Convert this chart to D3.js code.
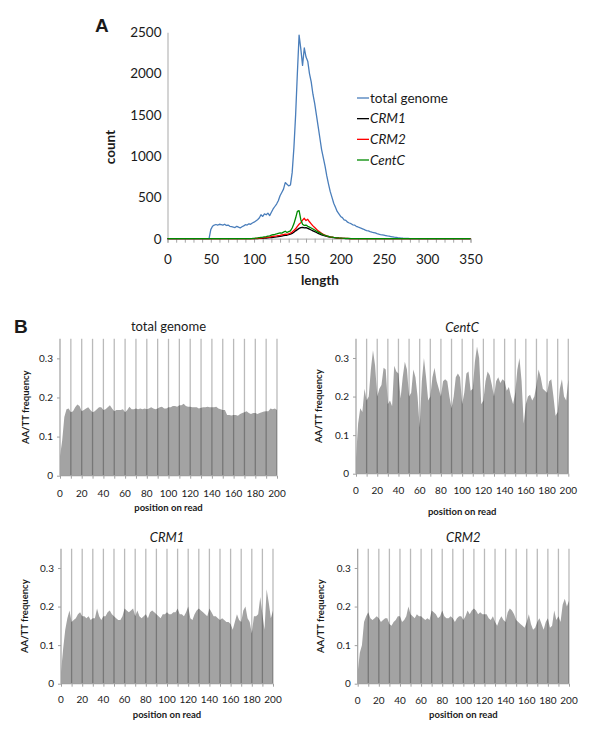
<!DOCTYPE html>
<html><head><meta charset="utf-8">
<script src="https://cdn.jsdelivr.net/npm/d3@7/dist/d3.min.js"></script>
<style>
body{margin:0;background:#fff}
svg{display:block}
text{font-family:Lato,"Open Sans",sans-serif;fill:#1a1a1a}
</style></head>
<body><svg id="c" width="600" height="747"></svg>
<script>
// ---------- Panel A data (length 0..350, step 2) ----------
const lengthsA = d3.range(0, 351, 2);
const countTicks = [0, 500, 1000, 1500, 2000, 2500];
const lengthTicks = [0, 50, 100, 150, 200, 250, 300, 350];
const minorLengthTicks = d3.range(0, 351, 10);
const seriesNamesA = ["total genome", "CRM1", "CRM2", "CentC"];
const seriesColorsA = ["#4a7ebb", "#000000", "#ff0000", "#008a00"];

const totalGenomeCounts = [
0,0,0,0,0,0,0,0,0,0, 0,0,0,0,0,0,0,0,0,0, 0,0,0,0, 0,
110,150,165,172,165,175,170,165,175,160,
165,150,145,140,135,150,140,130,145,155,
170,165,180,175,190,200,215,230,250,290,
270,300,290,310,280,320,360,390,420,460,
520,560,600,680,660,640,650,800,1100,1500,
2000,2466,2300,2100,2310,2200,2150,2000,1900,1750,
1640,1500,1360,1220,1080,980,880,760,660,570,
500,430,380,330,300,270,255,228,222,200,
190,182,168,165,150,142,133,125,117,106,
98,95,86,80,75,70,62,55,50,46,
42,38,33,30,26,22,18,15,12,10,
8,6,5,4,3,2,2,1,1,
0,0,0,0,0,0,0,0,0,0, 0,0,0,0,0,0,0,0,0,0, 0,0,0,0,0,0,0,0,0,0, 0,0
];
const crm1Counts = [
0,0,0,0,0,0,0,0,0,0, 0,0,0,0,0,0,0,0,0,0, 0,0,0,0,0,0,0,0,0,0,
0,0,0,0,0,0,0,0,0,0, 0,0,0,0,0,0,0,0,0,0, 0,
1,2,3,4,5,7,8,10,12,14,
17,20,22,25,28,32,36,40,42,48,
55,65,78,95,110,125,135,138,130,135,
125,115,105,95,85,75,65,55,47,40,
33,27,22,18,15,12,10,8,6,5,
4,3,2,2,1,
0,0,0,0,0,0,0,0,0,0, 0,0,0,0,0,0,0,0,0,0, 0,0,0,0,0,0,0,0,0,0,
0,0,0,0,0,0,0,0,0,0, 0,0,0,0,0,0,0,0,0,0, 0,0,0,0,0,0,0,0,0,0,
0,0,0,0,0,0,0,0,0,0
];
const crm2Counts = [
0,0,0,0,0,0,0,0,0,0, 0,0,0,0,0,0,0,0,0,0, 0,0,0,0,0,0,0,0,0,0,
0,0,0,0,0,0,0,0,0,0, 0,0,0,0,0,0,0,0,0,0,
2,3,4,6,8,10,12,15,18,20,
24,28,32,34,37,40,45,50,55,52,
60,68,80,100,120,150,175,195,225,247,
220,235,205,180,155,135,115,95,80,65,
52,42,35,28,23,19,15,12,10,8,
7,5,4,3,3,2,2,1,
0,0,0,0,0,0,0,0,0,0, 0,0,0,0,0,0,0,0,0,0, 0,0,0,0,0,0,0,0,0,0,
0,0,0,0,0,0,0,0,0,0, 0,0,0,0,0,0,0,0,0,0, 0,0,0,0,0,0,0,0,0,0,
0,0,0,0,0,0,0,0
];
const centCCounts = [
0,0,0,0,0,0,0,0,0,0, 0,0,0,0,0,0,0,0,0,0, 0,0,0,0,0,0,0,0,0,0,
0,0,0,0,0,0,0,0,0,0, 0,0,0,0,0,0,0,0,
2,3,5,7,9,12,15,18,22,25,
30,35,42,48,52,58,65,70,68,80,
90,75,85,95,130,180,250,330,339,230,
175,160,165,150,140,130,118,105,92,80,
70,58,48,40,33,28,23,20,16,13,
11,9,8,6,5,4,3,3,2,2,
1,
0,0,0,0,0,0,0,0,0,0, 0,0,0,0,0,0,0,0,0,0, 0,0,0,0,0,0,0,0,0,0,
0,0,0,0,0,0,0,0,0,0, 0,0,0,0,0,0,0,0,0,0, 0,0,0,0,0,0,0,0,0,0,
0,0,0,0,0,0,0
];

// ---------- Panel B data (position 0..200, step 2) ----------
const positionsB = d3.range(0, 201, 2);
const freqTicks = [0, 0.1, 0.2, 0.3];
const positionTicks = d3.range(0, 201, 20);
const gridPositions = d3.range(10, 201, 10);

const totalGenomeFreq = [
0.05,0.09,0.15,0.17,0.172,0.162,0.165,0.175,0.182,0.178,
0.165,0.168,0.172,0.175,0.168,0.162,0.165,0.17,0.175,0.175,
0.168,0.17,0.175,0.18,0.172,0.165,0.168,0.168,0.168,0.17,
0.162,0.168,0.176,0.17,0.17,0.172,0.17,0.172,0.17,0.172,
0.17,0.172,0.175,0.172,0.17,0.172,0.175,0.176,0.172,0.172,
0.175,0.175,0.178,0.178,0.176,0.18,0.18,0.184,0.178,0.176,
0.176,0.175,0.175,0.175,0.172,0.174,0.175,0.175,0.176,0.175,
0.175,0.175,0.176,0.172,0.17,0.168,0.168,0.155,0.155,0.154,
0.155,0.155,0.153,0.158,0.16,0.162,0.165,0.16,0.158,0.16,
0.16,0.158,0.16,0.162,0.164,0.165,0.165,0.172,0.17,0.172,
0.168
];
const centCFreq = [
0.04,0.13,0.17,0.16,0.22,0.19,0.2,0.27,0.32,0.28,
0.2,0.22,0.23,0.275,0.27,0.18,0.19,0.175,0.28,0.265,
0.26,0.195,0.25,0.29,0.27,0.2,0.21,0.27,0.25,0.2,
0.12,0.24,0.3,0.25,0.19,0.2,0.25,0.275,0.24,0.22,
0.2,0.24,0.245,0.24,0.2,0.17,0.2,0.25,0.26,0.25,
0.18,0.21,0.26,0.265,0.215,0.22,0.29,0.33,0.3,0.18,
0.19,0.24,0.265,0.255,0.23,0.2,0.24,0.25,0.235,0.245,
0.24,0.215,0.225,0.2,0.18,0.21,0.27,0.3,0.24,0.13,
0.18,0.2,0.205,0.19,0.2,0.23,0.27,0.25,0.22,0.215,
0.21,0.24,0.245,0.2,0.15,0.16,0.22,0.245,0.2,0.19,
0.245
];
const crm1Freq = [
0.03,0.09,0.14,0.17,0.19,0.16,0.165,0.17,0.18,0.185,
0.175,0.175,0.17,0.175,0.165,0.17,0.17,0.195,0.175,0.165,
0.175,0.175,0.185,0.19,0.18,0.175,0.17,0.165,0.165,0.175,
0.195,0.19,0.185,0.19,0.195,0.175,0.19,0.175,0.17,0.175,
0.18,0.17,0.185,0.19,0.185,0.18,0.175,0.17,0.18,0.18,
0.185,0.18,0.18,0.185,0.185,0.195,0.18,0.18,0.175,0.185,
0.2,0.17,0.165,0.18,0.19,0.195,0.19,0.185,0.18,0.175,
0.195,0.185,0.175,0.175,0.17,0.165,0.17,0.165,0.16,0.16,
0.155,0.14,0.16,0.18,0.165,0.16,0.19,0.2,0.17,0.16,
0.13,0.175,0.175,0.18,0.225,0.18,0.14,0.245,0.21,0.17,
0.19
];
const crm2Freq = [
0.03,0.08,0.1,0.16,0.175,0.185,0.17,0.165,0.17,0.175,
0.17,0.16,0.165,0.17,0.17,0.155,0.15,0.16,0.165,0.175,
0.175,0.16,0.165,0.175,0.2,0.18,0.175,0.17,0.18,0.175,
0.175,0.17,0.165,0.17,0.165,0.19,0.185,0.18,0.17,0.175,
0.19,0.175,0.17,0.17,0.175,0.17,0.16,0.17,0.175,0.175,
0.165,0.175,0.19,0.18,0.19,0.195,0.19,0.18,0.185,0.18,
0.18,0.18,0.17,0.165,0.175,0.16,0.15,0.165,0.175,0.165,
0.16,0.185,0.195,0.19,0.18,0.165,0.16,0.155,0.15,0.145,
0.16,0.18,0.155,0.14,0.145,0.16,0.17,0.155,0.14,0.16,
0.17,0.145,0.15,0.19,0.165,0.175,0.16,0.205,0.22,0.2,
0.215
];

const svg = d3.select("#c");

// ================= Panel A =================
const xA = d3.scaleLinear().domain([0, 350]).range([167.5, 470.5]);
const yA = d3.scaleLinear().domain([0, 2500]).range([238.7, 32.3]);
const gA = svg.append("g");

// y axis
const yAxA = gA.append("g").attr("transform", `translate(${xA(0)},0)`)
  .call(d3.axisLeft(yA).tickValues(countTicks).tickSize(0).tickPadding(6).tickFormat(d3.format("d")));
yAxA.select(".domain").attr("stroke", "#bdbdbd").attr("stroke-width", 1.3);
yAxA.selectAll("text").style("font-size", "13.5px").attr("fill", "#1a1a1a");

// x axis minor ticks
const xMinA = gA.append("g").attr("transform", `translate(0,${yA(0)})`)
  .call(d3.axisBottom(xA).tickValues(minorLengthTicks).tickSize(4).tickFormat(""));
xMinA.select(".domain").attr("stroke", "#bdbdbd").attr("stroke-width", 1.3);
xMinA.selectAll("line").attr("stroke", "#a6a6a6");
// x axis labels
const xLabA = gA.append("g").attr("transform", `translate(0,${yA(0)})`)
  .call(d3.axisBottom(xA).tickValues(lengthTicks).tickSize(0).tickPadding(16).tickFormat(d3.format("d")));
xLabA.select(".domain").remove();
xLabA.selectAll("text").style("font-size", "13.5px").attr("fill", "#1a1a1a");

// lines
const seriesA = [totalGenomeCounts, crm1Counts, crm2Counts, centCCounts];
const lineA = d3.line().x((d, i) => xA(lengthsA[i])).y(d => yA(d));
seriesA.forEach((s, k) => {
  gA.append("path").attr("d", lineA(s)).attr("fill", "none")
    .attr("stroke", seriesColorsA[k]).attr("stroke-width", 1.3)
    .attr("stroke-linejoin", "round");
});

// axis titles
gA.append("text").attr("x", 320).attr("y", 285).attr("text-anchor", "middle")
  .style("font-size", "13.5px").style("font-weight", "bold").text("length");
gA.append("text").attr("transform", "translate(115,147) rotate(-90)")
  .attr("text-anchor", "middle").style("font-size", "13.5px").style("font-weight", "bold").text("count");
gA.append("text").attr("x", 95).attr("y", 32)
  .style("font-family", "'Liberation Sans',Arial,sans-serif").style("font-size", "19px").style("font-weight", "bold").text("A");

// legend
const legendY = d3.scalePoint().domain(seriesNamesA).range([98, 160]);
seriesNamesA.forEach((n, k) => {
  const y = legendY(n);
  gA.append("line").attr("x1", 357).attr("x2", 369).attr("y1", y).attr("y2", y)
    .attr("stroke", seriesColorsA[k]).attr("stroke-width", 1.3);
  gA.append("text").attr("x", 370).attr("y", y).attr("dy", "0.35em")
    .style("font-size", "13.5px").style("font-style", k === 0 ? "normal" : "italic").text(n);
});

// ================= Panel B =================
svg.append("text").attr("x", 14).attr("y", 333)
  .style("font-family", "'Liberation Sans',Arial,sans-serif").style("font-size", "19px").style("font-weight", "bold").text("B");

const panels = [
  {title: "total genome", italic: false, values: totalGenomeFreq, l: 60, r: 277, b: 475.7, t: 338.8, titleY: 331, ticksY: 497, xTitleY: 511, yTitleX: 29},
  {title: "CentC", italic: true, values: centCFreq, l: 356, r: 568.3, b: 473.7, t: 338.7, titleY: 332, ticksY: 494, xTitleY: 515, yTitleX: 322},
  {title: "CRM1", italic: true, values: crm1Freq, l: 61, r: 273, b: 683.7, t: 548.7, titleY: 542, ticksY: 703, xTitleY: 718, yTitleX: 28},
  {title: "CRM2", italic: true, values: crm2Freq, l: 357.7, r: 569, b: 683.7, t: 548.7, titleY: 542, ticksY: 704, xTitleY: 718, yTitleX: 324}
];

panels.forEach(p => {
  const g = svg.append("g");
  const x = d3.scaleLinear().domain([0, 200]).range([p.l, p.r]);
  const y = d3.scaleLinear().domain([0, 0.35]).range([p.b, p.t]);

  const area = d3.area().x((d, i) => x(positionsB[i])).y0(y(0)).y1(d => y(d));
  g.append("path").attr("d", area(p.values)).attr("fill", "#a3a3a3");

  g.selectAll("line.grid").data(gridPositions).enter().append("line")
    .attr("x1", d => x(d)).attr("x2", d => x(d)).attr("y1", y(0.35)).attr("y2", y(0))
    .attr("stroke", "rgba(0,0,0,0.27)").attr("stroke-width", 1.3);

  const ya = g.append("g").attr("transform", `translate(${p.l},0)`)
    .call(d3.axisLeft(y).tickValues(freqTicks).tickSize(3).tickPadding(4).tickFormat(d => d === 0 ? "0" : d3.format(".1f")(d)));
  ya.select(".domain").attr("d", `M0,${y(0.35)}V${y(0)}`).attr("stroke", "#a0a0a0").attr("stroke-width", 1.2);
  ya.selectAll("line").attr("stroke", "#a0a0a0");
  ya.selectAll("text").style("font-size", "10px").attr("fill", "#333");

  const xa = g.append("g").attr("transform", `translate(0,${p.b})`)
    .call(d3.axisBottom(x).tickValues(gridPositions.concat([0])).tickSize(3).tickFormat(""));
  xa.select(".domain").attr("d", `M${p.l},0H${p.r}`).attr("stroke", "#a0a0a0").attr("stroke-width", 1.2);
  xa.selectAll("line").attr("stroke", "#a0a0a0");
  g.selectAll("text.xt").data(positionTicks).enter().append("text")
    .attr("x", d => x(d)).attr("y", p.ticksY).attr("text-anchor", "middle")
    .style("font-size", "10px").attr("fill", "#333").text(d => d);

  g.append("text").attr("x", (p.l + p.r) / 2).attr("y", p.titleY).attr("text-anchor", "middle")
    .style("font-size", "13px").style("font-style", p.italic ? "italic" : "normal").attr("fill", "#333").text(p.title);
  g.append("text").attr("x", (p.l + p.r) / 2).attr("y", p.xTitleY).attr("text-anchor", "middle")
    .style("font-size", "9.5px").style("font-weight", "bold").text("position on read");
  g.append("text").attr("transform", `translate(${p.yTitleX},${(p.t + p.b) / 2}) rotate(-90)`)
    .attr("text-anchor", "middle").style("font-size", "9.5px").style("font-weight", "bold").text("AA/TT frequency");
});
</script>
</body></html>
